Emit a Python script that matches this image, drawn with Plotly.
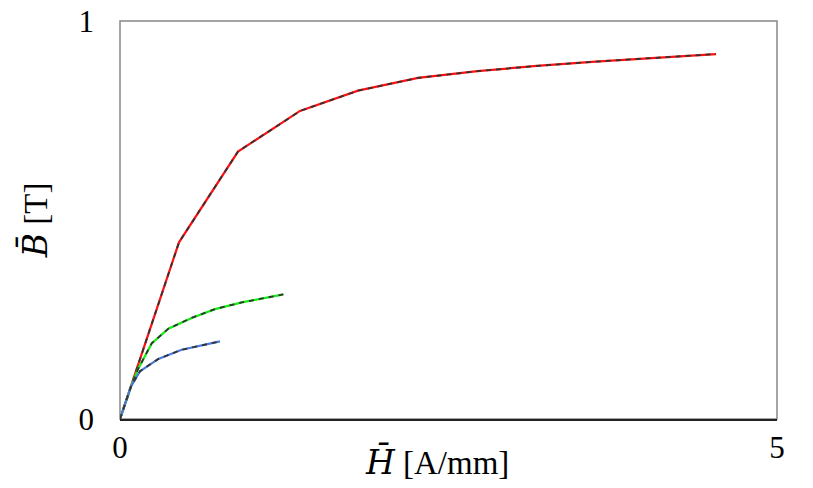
import plotly.graph_objects as go

# B-H curves (H in A/mm, B in T)
red_h = [0, 0.449, 0.898, 1.370, 1.811, 2.268, 2.72, 3.17, 3.62, 4.07, 4.536]
red_b = [0, 0.444, 0.672, 0.774, 0.825, 0.857, 0.874, 0.887, 0.898, 0.908, 0.917]

green_h = [0, 0.084, 0.135, 0.241, 0.368, 0.545, 0.723, 0.927, 1.243]
green_b = [0, 0.082, 0.124, 0.190, 0.227, 0.254, 0.276, 0.293, 0.313]

blue_h = [0, 0.084, 0.152, 0.292, 0.469, 0.622, 0.761]
blue_b = [0, 0.082, 0.120, 0.151, 0.174, 0.186, 0.195]

series = [
    (red_h, red_b, '#ff1010'),
    (green_h, green_b, '#10ee10'),
    (blue_h, blue_b, '#4a78dc'),
]

fig = go.Figure()
for h, b, col in series:
    fig.add_trace(go.Scatter(x=h, y=b, mode='lines',
                             line=dict(color=col, width=2.2), showlegend=False))
    # dashed black overlay
    fig.add_trace(go.Scatter(x=h, y=b, mode='lines',
                             line=dict(color='#333333', width=1.8, dash='5px,5px'),
                             showlegend=False))

font = 'Liberation Serif, DejaVu Serif, serif'


def label(sym, unit):
    # the macron only combines properly in DejaVu
    return ('<span style="font-family:DejaVu Serif"><i>' + sym + '</i></span>'
            '<span style="font-family:Liberation Serif"> ' + unit + '</span>')


# page body has an 8px margin, so the figure is a bit smaller than the window
fig.update_layout(
    width=805, height=480,
    margin=dict(l=112, r=36, t=13, b=69, autoexpand=False),
    plot_bgcolor='white', paper_bgcolor='white',
    font=dict(family=font, size=28, color='black'),
    shapes=[dict(type='rect', xref='paper', yref='paper', x0=0, x1=1, y0=0, y1=1,
                 line=dict(color='#888888', width=1.5), layer='below')],
    annotations=[
        dict(text=label('H̄', '[A/mm]'), xref='paper', yref='paper',
             x=0.483, y=-0.108, showarrow=False, xanchor='center', yanchor='middle',
             font=dict(family=font, size=33)),
        dict(text=label('B̄', '[T]'), xref='paper', yref='paper',
             x=-0.129, y=0.5, showarrow=False, textangle=-90,
             xanchor='center', yanchor='middle', font=dict(family=font, size=33)),
    ],
)
fig.update_xaxes(range=[0, 5], tickvals=[0, 5], ticktext=['0', '5'],
                 tickfont=dict(size=31), automargin=False, ticklabeloverflow='allow',
                 showgrid=False, zeroline=False, showline=True,
                 linecolor='#222222', linewidth=1.5, ticks='')
fig.update_yaxes(range=[0, 1], tickvals=[0, 1], ticktext=['0', '1'],
                 tickfont=dict(size=31), automargin=False, ticklabeloverflow='allow',
                 showgrid=False, zeroline=False, showline=False, ticks='',
                 ticklabelstandoff=25)

fig.write_html("out.html")
